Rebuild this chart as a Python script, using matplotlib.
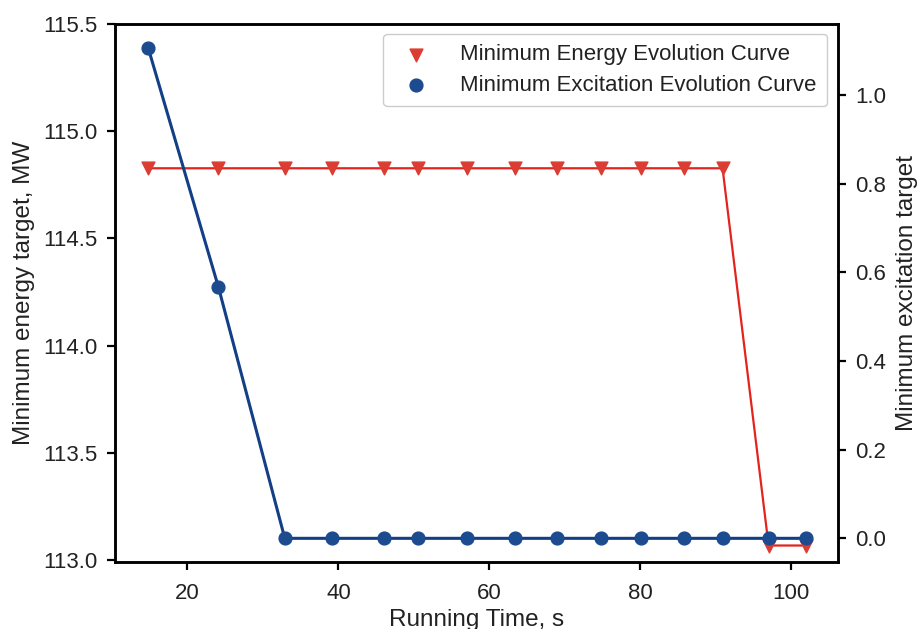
import matplotlib.pyplot as plt
import numpy as np

plt.rcParams['font.family'] = ['Liberation Sans', 'DejaVu Sans']

# running time of each recorded iteration, s
run_time = [14.8, 24.1, 32.9, 39.1, 46.0, 50.6, 57.1, 63.4, 69.0, 74.8, 80.1, 85.8, 90.9, 97.0, 101.9]
# minimum energy target, MW
energy = [114.827, 114.827, 114.827, 114.827, 114.827, 114.827, 114.827, 114.827,
          114.827, 114.827, 114.827, 114.827, 114.827, 113.067, 113.067]
# minimum excitation target
excitation = [1.106, 0.567, 0.0, 0.0, 0.0, 0.0, 0.0, 0.0, 0.0, 0.0, 0.0, 0.0, 0.0, 0.0, 0.0]

red_line = '#e3231c'
red_mark = '#dc3d33'
blue_line = '#123f86'
blue_mark = '#1d4b8f'
txt = '#222222'

fs = 16
lfs = 17.5
fig = plt.figure(figsize=(9.19, 6.29), dpi=100)
ax = fig.add_axes([0.1251, 0.1065, 0.7868, 0.8553])
ax2 = ax.twinx()

ax.plot(run_time, energy, '-', color=red_line, lw=1.6, zorder=2)
h1 = ax.scatter(run_time, energy, marker='v', s=85, color=red_mark, zorder=3,
                label='Minimum Energy Evolution Curve')
ax2.plot(run_time, excitation, '-', color=blue_line, lw=2.2, zorder=2)
h2 = ax2.scatter(run_time, excitation, marker='o', s=85, color=blue_mark, zorder=3,
                 label='Minimum Excitation Evolution Curve')

ax.set_xlim(10.4, 106.2)
ax.set_ylim(112.99, 115.5)
ax2.set_ylim(-0.0534, 1.1597)
ax.set_yticks([113.0, 113.5, 114.0, 114.5, 115.0, 115.5])
ax.set_xticks([20, 40, 60, 80, 100])
ax2.set_yticks([0.0, 0.2, 0.4, 0.6, 0.8, 1.0])

for a in (ax, ax2):
    for sp in a.spines.values():
        sp.set_linewidth(1.8)
    a.tick_params(labelsize=fs, labelcolor=txt, width=1.6, length=6, pad=6.5,
                  direction='out')
ax.tick_params(axis='x', pad=9)

ax.set_xlabel('Running Time, s', fontsize=lfs, color=txt, labelpad=4)
ax.set_ylabel('Minimum energy target, MW', fontsize=lfs, color=txt, labelpad=6)
ax2.set_ylabel('Minimum excitation target', fontsize=lfs, color=txt, labelpad=7)

leg = ax2.legend(handles=[h1, h2], loc='upper right', fontsize=fs,
                 bbox_to_anchor=(0.9848, 0.9814), borderaxespad=0,
                 handletextpad=1.0, borderpad=0.47, labelspacing=0.42,
                 framealpha=1)
leg.get_frame().set_edgecolor('#cccccc')
for t in leg.get_texts():
    t.set_color(txt)

fig.savefig('out.png', dpi=100)
